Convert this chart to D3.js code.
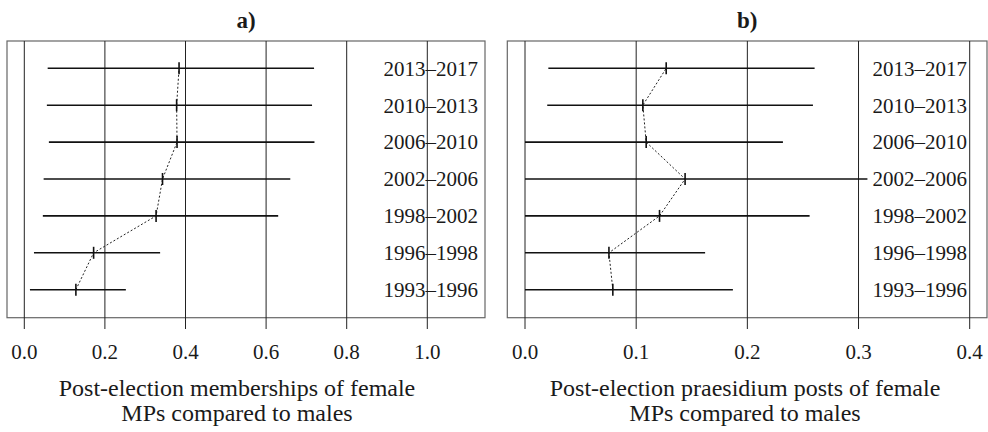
<!DOCTYPE html>
<html>
<head>
<meta charset="utf-8">
<script src="https://cdn.jsdelivr.net/npm/d3@7"></script>
<style>
  html, body { margin: 0; padding: 0; background: #fff; }
</style>
</head>
<body>
<svg id="chart" width="988" height="432"></svg>
<script>
// ---- data ----
const periods = ["1993–1996", "1996–1998", "1998–2002", "2002–2006", "2006–2010", "2010–2013", "2013–2017"];

// panel a: post-election memberships of female MPs compared to males
const membLow  = [0.014, 0.024, 0.046, 0.048, 0.061, 0.056, 0.058];
const membEst  = [0.128, 0.172, 0.327, 0.343, 0.379, 0.378, 0.384];
const membHigh = [0.252, 0.337, 0.630, 0.660, 0.720, 0.714, 0.719];
const membTicks = [0, 0.2, 0.4, 0.6, 0.8, 1.0];

// panel b: post-election praesidium posts of female MPs compared to males
const postLow  = [0.000, 0.000, 0.000, 0.000, 0.000, 0.020, 0.021];
const postEst  = [0.079, 0.0755, 0.121, 0.144, 0.109, 0.106, 0.127];
const postHigh = [0.187, 0.162, 0.256, 0.308, 0.232, 0.259, 0.2605];
const postTicks = [0, 0.1, 0.2, 0.3, 0.4];

const panelTitles = ["a)", "b)"];
const axisTitlesA = ["Post-election memberships of female", "MPs compared to males"];
const axisTitlesB = ["Post-election praesidium posts of female", "MPs compared to males"];

// ---- layout ----
const FONT = "'Liberation Serif'";
const svg = d3.select("#chart");
const boxTop = 41, boxBottom = 317.7, tickBottom = 329;

const y = d3.scalePoint().domain(periods).range([289.7, 68.3]);

const panels = [
  { title: panelTitles[0], low: membLow, est: membEst, high: membHigh, ticks: membTicks,
    domain: [0, 1], range: [24.3, 427.3], box: [7, 485], labelX: 478, axisX: 237, axisTitle: axisTitlesA },
  { title: panelTitles[1], low: postLow, est: postEst, high: postHigh, ticks: postTicks,
    domain: [0, 0.4], range: [525, 969.7], box: [507.3, 987], labelX: 967, axisX: 745, axisTitle: axisTitlesB }
];

function txt(sel) {
  return sel.style("font-family", FONT).attr("fill", "#1a1a1a");
}

panels.forEach(p => {
  const x = d3.scaleLinear().domain(p.domain).range(p.range);
  const g = svg.append("g");
  const cx = (p.box[0] + p.box[1]) / 2;

  // panel title
  txt(g.append("text"))
    .attr("x", cx).attr("y", 27.5)
    .attr("text-anchor", "middle")
    .attr("font-weight", "bold")
    .attr("font-size", 23)
    .text(p.title);

  // box
  g.append("rect")
    .attr("x", p.box[0]).attr("y", boxTop)
    .attr("width", p.box[1] - p.box[0]).attr("height", boxBottom - boxTop)
    .attr("fill", "none").attr("stroke", "#666").attr("stroke-width", 1.2);

  // vertical grid lines extending as ticks
  g.selectAll("line.grid").data(p.ticks).join("line")
    .attr("class", "grid")
    .attr("x1", d => x(d)).attr("x2", d => x(d))
    .attr("y1", boxTop).attr("y2", tickBottom)
    .attr("stroke", "#222").attr("stroke-width", 1);

  // tick labels
  txt(g.selectAll("text.tick").data(p.ticks).join("text"))
    .attr("class", "tick")
    .attr("x", d => x(d)).attr("y", 358.5)
    .attr("text-anchor", "middle").attr("font-size", 21)
    .text(d => d3.format(".1f")(d));

  // axis title
  txt(g.selectAll("text.axt").data(p.axisTitle).join("text"))
    .attr("class", "axt")
    .attr("x", p.axisX).attr("y", (d, i) => 396 + i * 24.5)
    .attr("text-anchor", "middle").attr("font-size", 24)
    .text(d => d);

  const rows = periods.map((per, i) => ({ per, lo: p.low[i], est: p.est[i], hi: p.high[i] }));

  // CI lines
  g.selectAll("line.ci").data(rows).join("line")
    .attr("class", "ci")
    .attr("x1", d => x(d.lo)).attr("x2", d => x(d.hi))
    .attr("y1", d => y(d.per)).attr("y2", d => y(d.per))
    .attr("stroke", "#111").attr("stroke-width", 1.6);

  // dotted connector
  g.append("path")
    .datum(rows)
    .attr("fill", "none").attr("stroke", "#222").attr("stroke-width", 1)
    .attr("stroke-dasharray", "2,2")
    .attr("d", d3.line().x(d => x(d.est)).y(d => y(d.per)));

  // estimate ticks
  g.selectAll("line.est").data(rows).join("line")
    .attr("class", "est")
    .attr("x1", d => x(d.est)).attr("x2", d => x(d.est))
    .attr("y1", d => y(d.per) - 6).attr("y2", d => y(d.per) + 6)
    .attr("stroke", "#111").attr("stroke-width", 1.6);

  // row labels
  txt(g.selectAll("text.row").data(rows).join("text"))
    .attr("class", "row")
    .attr("x", p.labelX).attr("y", d => y(d.per) + 7.3)
    .attr("text-anchor", "end").attr("font-size", 21)
    .text(d => d.per);
});
</script>
</body>
</html>
